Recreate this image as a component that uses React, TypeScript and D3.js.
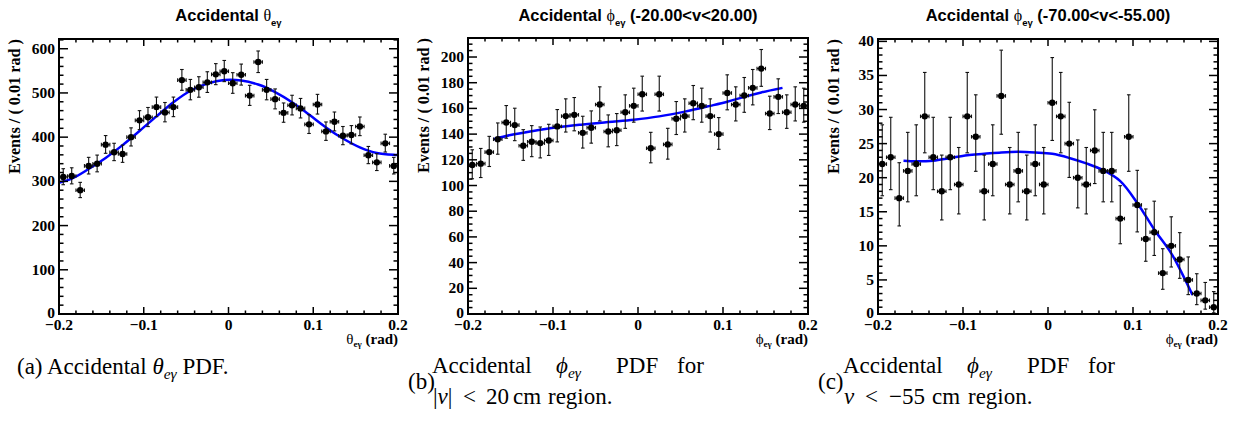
import React from 'react';
import * as d3 from 'd3';

// ---------- data ----------
const binCenters = [
  -0.195, -0.185, -0.175, -0.165, -0.155, -0.145, -0.135, -0.125, -0.115, -0.105,
  -0.095, -0.085, -0.075, -0.065, -0.055, -0.045, -0.035, -0.025, -0.015, -0.005,
  0.005, 0.015, 0.025, 0.035, 0.045, 0.055, 0.065, 0.075, 0.085, 0.095,
  0.105, 0.115, 0.125, 0.135, 0.145, 0.155, 0.165, 0.175, 0.185, 0.195,
];
const binHalfWidth = 0.005;

const thetaCounts = [
  310, 312, 280, 335, 340, 383, 366, 362, 400, 438,
  445, 468, 456, 468, 529, 507, 513, 524, 542, 549,
  522, 541, 494, 570, 507, 486, 455, 472, 465, 429,
  474, 413, 435, 403, 405, 424, 359, 343, 386, 335,
];
const thetaFitX = [-0.2, -0.185, -0.165, -0.145, -0.125, -0.105, -0.085, -0.065, -0.045, -0.025, -0.005, 0.015, 0.035, 0.055, 0.075, 0.095, 0.115, 0.135, 0.155, 0.175, 0.195, 0.2];
const thetaFitY = [297, 306, 328, 353, 382, 414, 447, 479, 505, 521, 529, 528, 519, 502, 479, 451, 422, 397, 377, 364, 360, 360];

const phiCentralCounts = [
  116, 117, 126, 136, 149, 147, 131, 134, 133, 135,
  146, 154, 155, 141, 145, 163, 142, 143, 157, 162,
  171, 129, 171, 132, 152, 154, 164, 162, 154, 140,
  172, 163, 170, 176, 191, 156, 169, 157, 163, 162,
];
const phiCentralFitX = [-0.17, -0.15, -0.125, -0.095, -0.065, -0.035, -0.005, 0.025, 0.055, 0.085, 0.105, 0.125, 0.145, 0.17];
const phiCentralFitY = [136, 139.3, 142.3, 145.3, 147.5, 149.4, 151.2, 153.8, 157.5, 162, 165.2, 169, 172.4, 176];

const phiBackCounts = [
  22, 23, 17, 21, 22, 29, 23, 18, 23, 19,
  29, 26, 18, 22, 32, 19, 21, 18, 22, 19,
  31, 29, 25, 20, 19, 24, 21, 21, 14, 26,
  16, 11, 12, 6, 10, 8, 5, 3, 2, 1,
];
const phiBackFitX = [-0.17, -0.155, -0.135, -0.115, -0.095, -0.075, -0.055, -0.035, -0.015, 0.005, 0.025, 0.045, 0.065, 0.085, 0.105, 0.125, 0.145, 0.1575, 0.17];
const phiBackFitY = [22.5, 22.4, 22.5, 22.9, 23.3, 23.5, 23.7, 23.8, 23.7, 23.5, 22.9, 22.1, 21.1, 19.5, 16.3, 12.4, 8.9, 6.0, 2.8];

const xTickValues = [-0.2, -0.1, 0, 0.1, 0.2];
const xTickLabels = ['\u22120.2', '\u22120.1', '0', '0.1', '0.2'];
const thetaYTicks = [0, 100, 200, 300, 400, 500, 600];
const phiCentralYTicks = [0, 20, 40, 60, 80, 100, 120, 140, 160, 180, 200];
const phiBackYTicks = [0, 5, 10, 15, 20, 25, 30, 35, 40];

// ---------- helpers ----------
const SERIF = '"Liberation Serif", "Times New Roman", serif';
const SANS = '"Liberation Sans", Arial, sans-serif';
const THETA = '\u03B8';
const PHI = '\u03D5';
const GAMMA = '\u03B3';

// Poisson (Garwood) 68% interval, Wilson-Hilferty approximation
function poissonLow(n: number) {
  if (n <= 0) return 0;
  const t = 1 - 1 / (9 * n) - 1 / (3 * Math.sqrt(n));
  return n * t * t * t;
}
function poissonHigh(n: number) {
  const m = n + 1;
  const t = 1 - 1 / (9 * m) + 1 / (3 * Math.sqrt(m));
  return m * t * t * t;
}

type PanelCfg = {
  left: number; right: number; top: number; bottom: number;
  yMax: number; yMinorStep: number; yTicks: number[];
  counts: number[]; fitX: number[]; fitY: number[];
  sym: string; title: string;
};

function Panel({ cfg }: { cfg: PanelCfg }) {
  const x = d3.scaleLinear().domain([-0.2, 0.2]).range([cfg.left, cfg.right]);
  const y = d3.scaleLinear().domain([0, cfg.yMax]).range([cfg.bottom, cfg.top]);
  const xMinor = d3.range(-0.2, 0.2001, 0.02);
  const yMinor = d3.range(0, cfg.yMax, cfg.yMinorStep);
  const xMajLen = 7, xMinLen = 3.5, yMajLen = 9, yMinLen = 4.5;

  const line = d3.line<number>()
    .x((_, i) => x(cfg.fitX[i]))
    .y((d) => y(d))
    .curve(d3.curveCatmullRom.alpha(0.5));

  const cx = (cfg.left + cfg.right) / 2;
  const cap = 1.8;

  return (
    <g>
      {/* title */}
      <text x={cx} y={21} textAnchor="middle" fontFamily={SANS} fontWeight="bold" fontSize={16.5} fill="#000">
        Accidental <tspan fontFamily={SERIF} fontWeight="normal" fontSize={16}>{cfg.sym}</tspan>
        <tspan fontSize={9.5} dy={5}>e{GAMMA}</tspan>
        <tspan dy={-5}>{cfg.title}</tspan>
      </text>

      {/* fit curve */}
      <path d={line(cfg.fitY) || ''} fill="none" stroke="#0000ff" strokeWidth={2.5} />

      {/* data points */}
      {cfg.counts.map((n, i) => {
        const px = x(binCenters[i]);
        const py = y(n);
        const lo = y(poissonLow(n));
        const hi = y(poissonHigh(n));
        const xl = x(binCenters[i] - binHalfWidth);
        const xr = x(binCenters[i] + binHalfWidth);
        return (
          <g key={i} stroke="#111" strokeWidth={1.1}>
            <line x1={px} x2={px} y1={lo} y2={hi} />
            <line x1={px - cap} x2={px + cap} y1={lo} y2={lo} />
            <line x1={px - cap} x2={px + cap} y1={hi} y2={hi} />
            <line x1={xl} x2={xr} y1={py} y2={py} />
            <line x1={xl} x2={xl} y1={py - cap} y2={py + cap} />
            <line x1={xr} x2={xr} y1={py - cap} y2={py + cap} />
            <circle cx={px} cy={py} r={3.2} fill="#000" stroke="none" />
          </g>
        );
      })}

      {/* frame */}
      <rect x={cfg.left} y={cfg.top} width={cfg.right - cfg.left} height={cfg.bottom - cfg.top}
        fill="none" stroke="#000" strokeWidth={2} />

      {/* x ticks */}
      {xMinor.map((v, i) => {
        const major = xTickValues.some((t) => Math.abs(t - v) < 1e-6);
        const L = major ? xMajLen : xMinLen;
        return (
          <g key={'xt' + i} stroke="#000" strokeWidth={1.5}>
            <line x1={x(v)} x2={x(v)} y1={cfg.bottom} y2={cfg.bottom - L} />
            <line x1={x(v)} x2={x(v)} y1={cfg.top} y2={cfg.top + L} />
          </g>
        );
      })}
      {xTickValues.map((v, i) => (
        <text key={'xl' + i} x={x(v)} y={330} textAnchor="middle" fontFamily={SERIF} fontWeight="bold" fontSize={15.5}>
          {xTickLabels[i]}
        </text>
      ))}

      {/* y ticks */}
      {yMinor.map((v, i) => {
        const major = cfg.yTicks.some((t) => Math.abs(t - v) < 1e-6);
        const L = major ? yMajLen : yMinLen;
        return (
          <g key={'yt' + i} stroke="#000" strokeWidth={1.5}>
            <line x1={cfg.left} x2={cfg.left + L} y1={y(v)} y2={y(v)} />
            <line x1={cfg.right} x2={cfg.right - L} y1={y(v)} y2={y(v)} />
          </g>
        );
      })}
      {cfg.yTicks.map((v, i) => (
        <text key={'yl' + i} x={cfg.left - 4} y={y(v) + (v === 0 ? 3.5 : 5)} textAnchor="end" fontFamily={SERIF} fontWeight="bold" fontSize={15.5}>
          {String(v)}
        </text>
      ))}

      {/* axis titles */}
      <text transform={`translate(${cfg.left - 39},${cfg.top}) rotate(-90)`} textAnchor="end"
        fontFamily={SERIF} fontWeight="bold" fontSize={16} textLength={135} lengthAdjust="spacingAndGlyphs">
        Events / ( 0.01 rad )
      </text>
      <text x={cfg.right} y={344} textAnchor="end" fontFamily={SERIF} fontWeight="bold" fontSize={15}>
        <tspan fontWeight="normal">{cfg.sym}</tspan>
        <tspan fontSize={9} dy={3}>e{GAMMA}</tspan>
        <tspan dy={-3}> (rad)</tspan>
      </text>
    </g>
  );
}

const panels: PanelCfg[] = [
  { left: 59, right: 398, top: 39, bottom: 314, yMax: 622, yMinorStep: 20, yTicks: thetaYTicks,
    counts: thetaCounts, fitX: thetaFitX, fitY: thetaFitY, sym: THETA, title: '' },
  { left: 468, right: 808, top: 38, bottom: 314, yMax: 214.8, yMinorStep: 5, yTicks: phiCentralYTicks,
    counts: phiCentralCounts, fitX: phiCentralFitX, fitY: phiCentralFitY, sym: PHI, title: ' (-20.00<v<20.00)' },
  { left: 878, right: 1218, top: 39, bottom: 314, yMax: 40.35, yMinorStep: 1, yTicks: phiBackYTicks,
    counts: phiBackCounts, fitX: phiBackFitX, fitY: phiBackFitY, sym: PHI, title: ' (-70.00<v<-55.00)' },
];

function Captions() {
  const fs = 23;
  const sub = 15.5;
  return (
    <g fontFamily={SERIF} fontSize={fs} fill="#000">
      {/* (a) */}
      <text x={17} y={374}>
        (a) Accidental <tspan fontStyle="italic">{THETA}</tspan>
        <tspan fontStyle="italic" fontSize={sub} dy={5}>e{GAMMA}</tspan>
        <tspan dy={-5}> PDF.</tspan>
      </text>
      {/* (b) */}
      <text x={408} y={389}>(b)</text>
      <text x={432} y={373}>Accidental</text>
      <text x={556} y={373}>
        <tspan fontStyle="italic">{PHI}</tspan>
        <tspan fontStyle="italic" fontSize={sub} dy={5}>e{GAMMA}</tspan>
      </text>
      <text x={616} y={373}>PDF</text>
      <text x={677} y={373}>for</text>
      <text x={433} y={404}>|<tspan fontStyle="italic">v</tspan>|</text>
      <text x={463} y={404}>&lt;</text>
      <text x={486} y={404}>20</text>
      <text x={513} y={404}>cm</text>
      <text x={548} y={404}>region.</text>
      {/* (c) */}
      <text x={818} y={389}>(c)</text>
      <text x={843} y={373}>Accidental</text>
      <text x={967} y={373}>
        <tspan fontStyle="italic">{PHI}</tspan>
        <tspan fontStyle="italic" fontSize={sub} dy={5}>e{GAMMA}</tspan>
      </text>
      <text x={1027} y={373}>PDF</text>
      <text x={1088} y={373}>for</text>
      <text x={844} y={404} fontStyle="italic">v</text>
      <text x={865} y={404}>&lt;</text>
      <text x={889} y={404}>{'\u2212'}55</text>
      <text x={932} y={404}>cm</text>
      <text x={968} y={404}>region.</text>
    </g>
  );
}

export default function App() {
  return (
    <div style={{ position: 'absolute', left: 0, top: 0 }}>
      <svg width={1233} height={434} viewBox="0 0 1233 434" style={{ display: 'block', background: '#fff' }}>
        <rect x={0} y={0} width={1233} height={434} fill="#fff" />
        {panels.map((p, i) => <Panel key={i} cfg={p} />)}
        <Captions />
      </svg>
    </div>
  );
}
